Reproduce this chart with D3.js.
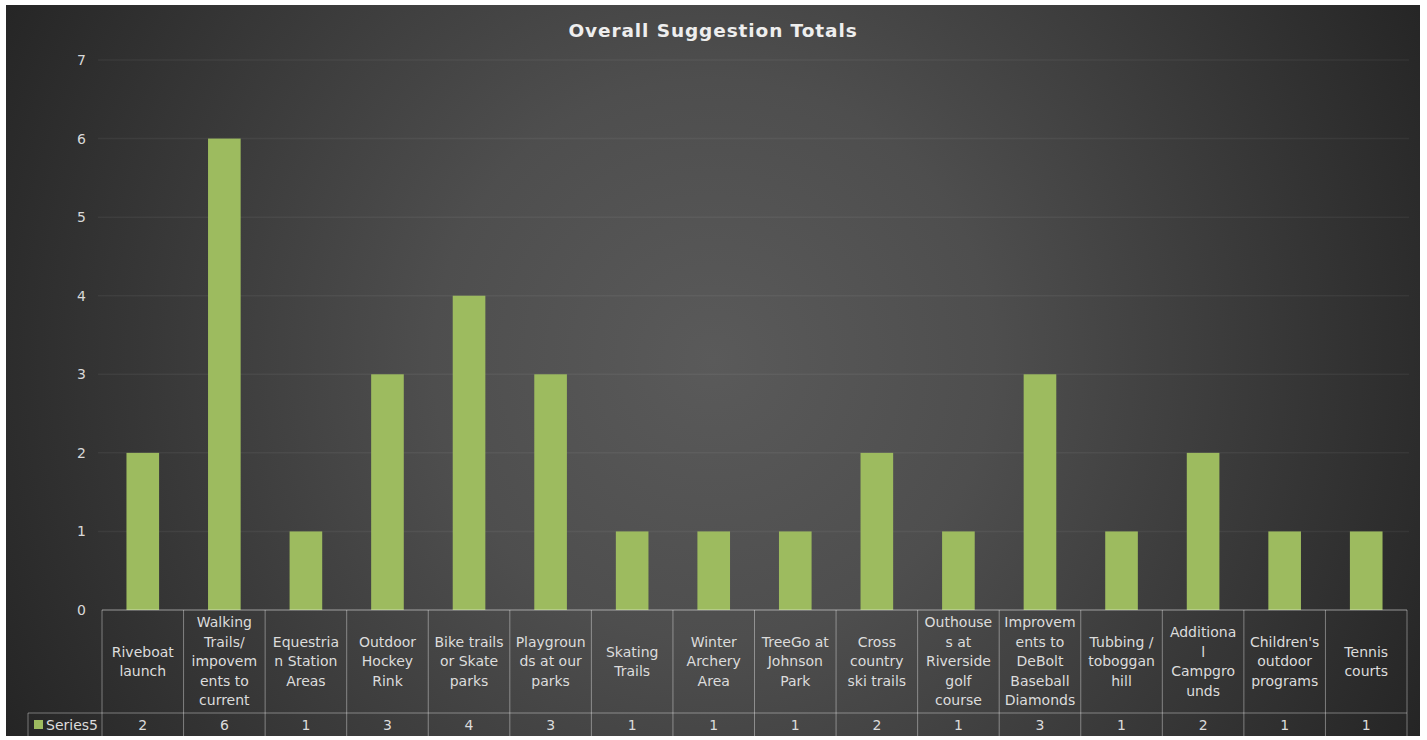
<!DOCTYPE html>
<html>
<head>
<meta charset="utf-8">
<script src="https://cdn.jsdelivr.net/npm/d3@7"></script>
<style>
  html, body { margin: 0; padding: 0; background: #ffffff; }
  svg { display: block; }
</style>
</head>
<body>
<script>
const title = "Overall Suggestion Totals";
const seriesName = "Series5";
const categories = [
  "Riveboat\nlaunch",
  "Walking\nTrails/\nimpovem\nents to\ncurrent",
  "Equestria\nn Station\nAreas",
  "Outdoor\nHockey\nRink",
  "Bike trails\nor Skate\nparks",
  "Playgroun\nds at our\nparks",
  "Skating\nTrails",
  "Winter\nArchery\nArea",
  "TreeGo at\nJohnson\nPark",
  "Cross\ncountry\nski trails",
  "Outhouse\ns at\nRiverside\ngolf\ncourse",
  "Improvem\nents to\nDeBolt\nBaseball\nDiamonds",
  "Tubbing /\ntoboggan\nhill",
  "Additiona\nl\nCampgro\nunds",
  "Children's\noutdoor\nprograms",
  "Tennis\ncourts"
];
const values = [2, 6, 1, 3, 4, 3, 1, 1, 1, 2, 1, 3, 1, 2, 1, 1];
const yTicks = [0, 1, 2, 3, 4, 5, 6, 7];

(function () {
const W = 1427, H = 740;
const svg = d3.select("body").append("svg").attr("width", W).attr("height", H);
const defs = svg.append("defs");
const rg = defs.append("radialGradient").attr("id", "bg")
  .attr("gradientUnits", "userSpaceOnUse")
  .attr("cx", 713).attr("cy", 360).attr("r", 800);
rg.append("stop").attr("offset", 0).attr("stop-color", "#5a5a5a");
rg.append("stop").attr("offset", 0.35).attr("stop-color", "#4e4e4e");
rg.append("stop").attr("offset", 1).attr("stop-color", "#252525");

svg.append("rect").attr("x", 6).attr("y", 5).attr("width", 1414).attr("height", 731)
  .attr("fill", "url(#bg)");

const font = "'DejaVu Sans', sans-serif";
const pLeft = 102, pRight = 1407, pTop = 60, pBottom = 610;
const x = d3.scaleBand().domain(d3.range(categories.length)).range([pLeft, pRight]).paddingInner(0.6).paddingOuter(0.3);
const xCol = d3.scaleBand().domain(d3.range(categories.length)).range([pLeft, pRight]);
const y = d3.scaleLinear().domain([0, 7]).range([pBottom, pTop]);

svg.append("text").attr("x", 713).attr("y", 37).attr("text-anchor", "middle")
  .attr("font-family", font).attr("font-weight", "bold").attr("font-size", 18.5)
  .attr("letter-spacing", 0.9)
  .attr("fill", "#eeeeee").text(title);

// gridlines
svg.append("g").selectAll("line").data(yTicks.filter(d => d > 0)).join("line")
  .attr("x1", 98).attr("x2", 1409)
  .attr("y1", d => y(d)).attr("y2", d => y(d))
  .attr("stroke", "rgba(255,255,255,0.05)").attr("stroke-width", 1.5);

// y axis labels
const yAxis = d3.axisLeft(y).tickValues(yTicks).tickFormat(d3.format("d")).tickSize(0).tickPadding(0);
const ya = svg.append("g").attr("transform", "translate(86,0)").call(yAxis);
ya.select(".domain").remove();
ya.selectAll("text").attr("font-family", font).attr("font-size", 14).attr("fill", "#d9d9d9");

// bars
svg.append("g").selectAll("rect").data(values).join("rect")
  .attr("x", (d, i) => x(i)).attr("width", x.bandwidth())
  .attr("y", d => y(d)).attr("height", d => y(0) - y(d))
  .attr("fill", "#9dbb5f");

// data table
const tableStroke = "rgba(255,255,255,0.38)";
const rowTop = pBottom, rowMid = 713, rowBot = 737;
const tg = svg.append("g");
tg.append("line").attr("x1", pLeft).attr("x2", pRight).attr("y1", rowTop).attr("y2", rowTop)
  .attr("stroke", "rgba(255,255,255,0.5)").attr("stroke-width", 1.2);
tg.append("line").attr("x1", 28).attr("x2", pRight).attr("y1", rowMid).attr("y2", rowMid)
  .attr("stroke", tableStroke);
tg.append("line").attr("x1", 28).attr("x2", pRight).attr("y1", rowBot).attr("y2", rowBot)
  .attr("stroke", tableStroke);
tg.append("line").attr("x1", 28).attr("x2", 28).attr("y1", rowMid).attr("y2", rowBot)
  .attr("stroke", tableStroke);
tg.selectAll("line.v").data(d3.range(categories.length + 1)).join("line").attr("class", "v")
  .attr("x1", i => i < categories.length ? xCol(i) : pRight)
  .attr("x2", i => i < categories.length ? xCol(i) : pRight)
  .attr("y1", rowTop).attr("y2", rowBot).attr("stroke", tableStroke);

const lh = 19.5;
const catG = tg.selectAll("text.cat").data(categories).join("text").attr("class", "cat")
  .attr("font-family", font).attr("font-size", 14).attr("fill", "#dcdcdc")
  .attr("text-anchor", "middle");
catG.each(function(d, i) {
  const lines = d.split("\n");
  const cx = xCol(i) + xCol.bandwidth() / 2;
  const cy = (rowTop + rowMid) / 2;
  const y0 = cy - (lines.length - 1) * lh / 2;
  d3.select(this).selectAll("tspan").data(lines).join("tspan")
    .attr("x", cx).attr("y", (l, k) => y0 + k * lh).attr("dy", "0.35em").text(l => l);
});

tg.selectAll("text.val").data(values).join("text").attr("class", "val")
  .attr("x", (d, i) => xCol(i) + xCol.bandwidth() / 2).attr("y", (rowMid + rowBot) / 2)
  .attr("dy", "0.35em").attr("text-anchor", "middle")
  .attr("font-family", font).attr("font-size", 14).attr("fill", "#dcdcdc")
  .text(d => d);

tg.append("rect").attr("x", 34).attr("y", 720).attr("width", 9).attr("height", 9).attr("fill", "#9dbb5f");
tg.append("text").attr("x", 46).attr("y", (rowMid + rowBot) / 2).attr("dy", "0.35em")
  .attr("font-family", font).attr("font-size", 14).attr("fill", "#dcdcdc").text(seriesName);
})();
</script>
</body>
</html>
